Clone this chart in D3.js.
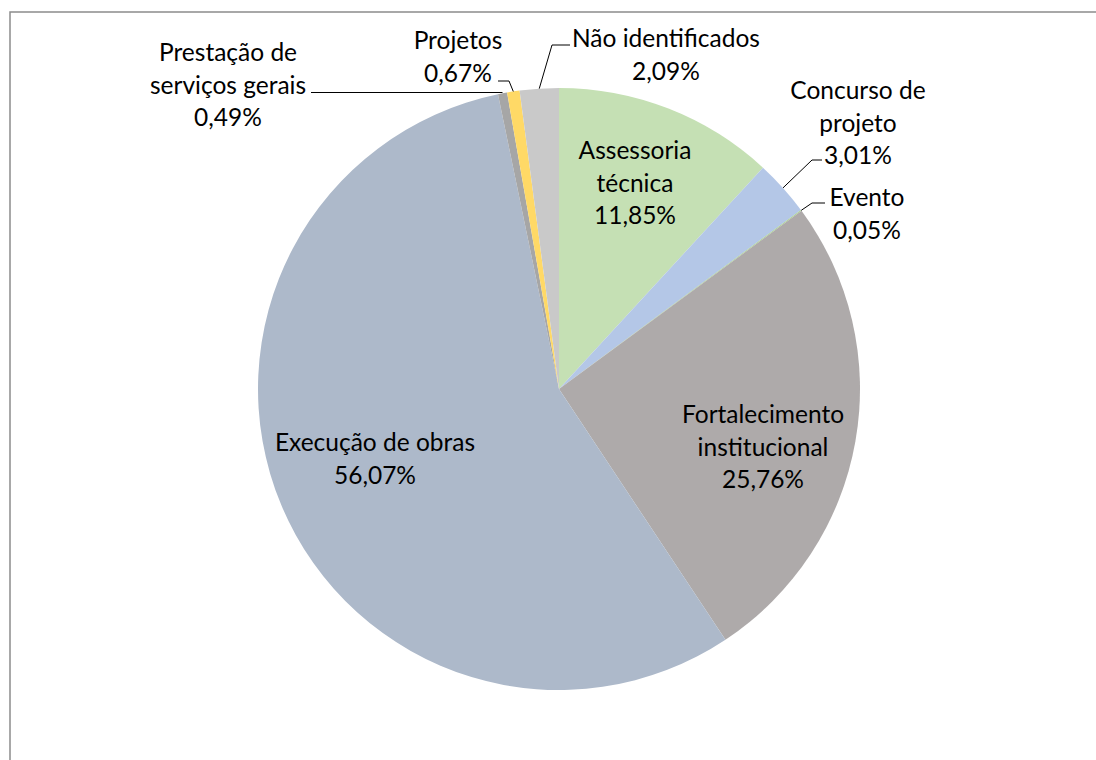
<!DOCTYPE html>
<html>
<head>
<meta charset="utf-8">
<script src="https://cdn.jsdelivr.net/npm/d3@7"></script>
<style>
  body { margin: 0; background: #fff; }
  text { font-family: Lato, "Open Sans", sans-serif; fill: #000; }
</style>
</head>
<body>
<div id="chart"></div>
<script>
// slices, clockwise from 12 o'clock
const categories = ["Assessoria técnica", "Concurso de projeto", "Evento", "Fortalecimento institucional",
                    "Execução de obras", "Prestação de serviços gerais", "Projetos", "Não identificados"];
const shares = [11.85, 3.01, 0.05, 25.76, 56.07, 0.49, 0.67, 2.09];
const colors = ["#c5e0b4", "#b4c7e7", "#a9d18e", "#aeaaaa", "#adb9ca", "#a6a6a6", "#ffd966", "#c9c9c9"];

// how each label is broken into lines
const labelLines = [
    ["Assessoria", "técnica"],
    ["Concurso de", "projeto"],
    ["Evento"],
    ["Fortalecimento", "institucional"],
    ["Execução de obras"],
    ["Prestação de", "serviços gerais"],
    ["Projetos"],
    ["Não identificados"]
];

const width = 1096, height = 760;
const cx = 559, cy = 389, R = 301;
const lineH = 32.5;

// label placement (centre x, first line centre y) and leader elbows, relative to the page
const layout = {
    "Assessoria técnica":            { x: 635, y: 150 },
    "Concurso de projeto":           { x: 858, y: 90,  leader: [[812, 160], [822, 160]] },
    "Evento":                        { x: 867, y: 197, leader: [[812, 203], [825, 203]] },
    "Fortalecimento institucional":  { x: 763, y: 414 },
    "Execução de obras":             { x: 375, y: 442 },
    "Prestação de serviços gerais":  { x: 228, y: 52,  leader: [[311, 92]] },
    "Projetos":                      { x: 458, y: 40,  leader: [[509, 81], [498, 81]] },
    "Não identificados":             { x: 666, y: 38,  leader: [[552, 45], [570, 45]] }
};

const fmt = v => v.toFixed(2).replace(".", ",") + "%";

const data = categories.map((c, i) => ({ name: c, value: shares[i], color: colors[i], lines: labelLines[i] }));

const svg = d3.select("#chart").append("svg")
    .attr("width", width)
    .attr("height", height);

// chart frame
svg.append("rect")
    .attr("x", 10).attr("y", 12)
    .attr("width", width + 20).attr("height", height + 20)
    .attr("fill", "none")
    .attr("stroke", "#8c8c8c")
    .attr("stroke-width", 1.5);

const pie = d3.pie().sort(null).value(d => d.value);
const arcs = pie(data);
const arc = d3.arc().innerRadius(0).outerRadius(R);

const g = svg.append("g").attr("transform", `translate(${cx},${cy})`);

g.selectAll("path")
    .data(arcs)
    .join("path")
        .attr("d", arc)
        .attr("fill", d => d.data.color);

// leader lines from the slice edge to the label
const edgePoint = d => {
    const a = (d.startAngle + d.endAngle) / 2;
    return [cx + R * Math.sin(a), cy - R * Math.cos(a)];
};

svg.append("g")
    .selectAll("polyline")
    .data(arcs.filter(d => layout[d.data.name].leader))
    .join("polyline")
        .attr("points", d => {
            const p = edgePoint(d);
            let pts = [p].concat(layout[d.data.name].leader);
            if (d.data.name.startsWith("Prestação")) pts = [[p[0], 92.5], [311, 92.5]];
            return pts.map(q => q.join(",")).join(" ");
        })
        .attr("fill", "none")
        .attr("stroke", "#000")
        .attr("stroke-width", 1);

// labels
const labels = svg.append("g")
    .selectAll("text")
    .data(arcs)
    .join("text")
        .attr("text-anchor", "middle")
        .style("font-size", "24.5px");

labels.selectAll("tspan")
    .data(d => d.data.lines.concat([fmt(d.data.value)]).map((t, i) => ({ t, i, d })))
    .join("tspan")
        .attr("x", s => layout[s.d.data.name].x)
        .attr("y", s => layout[s.d.data.name].y + s.i * lineH + 9)
        .text(s => s.t);
</script>
</body>
</html>
